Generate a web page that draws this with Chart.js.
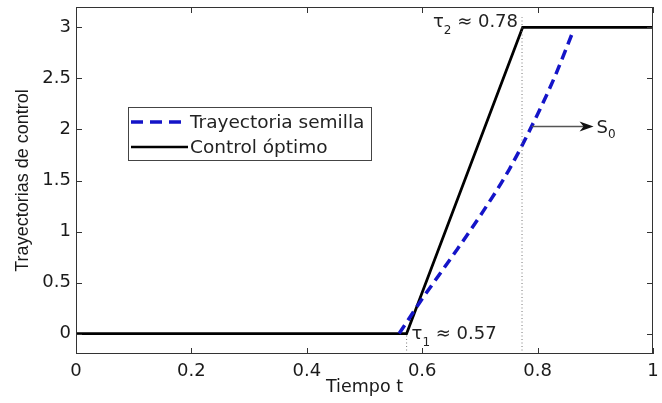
<!DOCTYPE html>
<html>
<head>
<meta charset="utf-8">
<script src="https://cdn.jsdelivr.net/npm/chart.js@4"></script>
<style>
  html, body { margin: 0; padding: 0; background: #fff; }
  #wrap { width: 662px; height: 403px; }
</style>
</head>
<body>
<div id="wrap"><canvas id="chart" width="662" height="403"></canvas></div>
<script>
// ── Datos ─────────────────────────────────────────────────────────────────────
const seedT = [0.56, 0.6, 0.65, 0.7, 0.75, 0.8, 0.83, 0.862];
const seedU = [0, 0.34, 0.74, 1.15, 1.6, 2.15, 2.52, 2.97];
const optT  = [0, 0.573, 0.774, 1];
const optU  = [0, 0, 3, 3];
const xTicks = [0, 0.2, 0.4, 0.6, 0.8, 1];
const yTicks = [0, 0.5, 1, 1.5, 2, 2.5, 3];
const tauT      = [0.573, 0.773];
const tauLabels = ['0.57', '0.78'];
const s0From = [0.79, 2.03];
const s0To   = [0.897, 2.03];

const pts = (xs, ys) => xs.map((v, i) => ({ x: v, y: ys[i] }));

const FONT = '"DejaVu Sans", sans-serif';

// ── Marco, ticks interiores, leyenda y anotaciones ───────────────────────────
const extras = {
  id: 'extras',
  afterDraw(chart) {
    const { ctx, chartArea: a, scales: { x, y } } = chart;
    ctx.save();
    const seg = (x1, y1, x2, y2) => { ctx.beginPath(); ctx.moveTo(x1, y1); ctx.lineTo(x2, y2); ctx.stroke(); };

    // marco
    ctx.strokeStyle = '#333';
    ctx.lineWidth = 1;
    ctx.strokeRect(Math.round(a.left) + 0.5, Math.round(a.top) + 0.5,
                   Math.round(a.right - a.left) - 1, Math.round(a.bottom - a.top) - 1);
    xTicks.forEach(v => {
      const px = Math.round(x.getPixelForValue(v)) + 0.5;
      seg(px, a.bottom, px, a.bottom - 6);
      seg(px, a.top, px, a.top + 6);
    });
    yTicks.forEach(v => {
      const py = Math.round(y.getPixelForValue(v)) + 0.5;
      seg(a.left, py, a.left + 6, py);
      seg(a.right, py, a.right - 6, py);
    });

    // leyenda (semilla primero)
    const lx = a.left + 52, ly = a.top + 100, lw = 243, lh = 53;
    ctx.fillStyle = '#fff';
    ctx.fillRect(lx, ly, lw, lh);
    ctx.strokeStyle = '#444';
    ctx.strokeRect(lx + 0.5, ly + 0.5, lw, lh);
    const items = chart.data.datasets.filter(d => d.label).sort((p, q) => p.order - q.order);
    items.forEach((d, i) => {
      const yy = ly + 15 + i * 25;
      ctx.strokeStyle = d.borderColor;
      ctx.lineWidth = d.borderWidth;
      ctx.setLineDash(d.borderDash ? [12, 7] : []);
      seg(lx + 3, yy, lx + 60, yy);
      ctx.setLineDash([]);
      ctx.fillStyle = '#222';
      ctx.font = '18.5px ' + FONT;
      ctx.textBaseline = 'middle';
      ctx.textAlign = 'left';
      ctx.fillText(d.label, lx + 62, yy + 1);
    });

    // etiquetas tau
    const drawTau = (x0, base, sub, rest, alignRight) => {
      ctx.textBaseline = 'alphabetic';
      ctx.textAlign = 'left';
      ctx.fillStyle = '#222';
      const big = '18px ' + FONT, small = '12px ' + FONT;
      ctx.font = big; const w1 = ctx.measureText('τ').width;
      ctx.font = small; const w2 = ctx.measureText(sub).width;
      ctx.font = big; const w3 = ctx.measureText(rest).width;
      const sx = alignRight ? x0 - (w1 + w2 + w3) : x0;
      ctx.font = big; ctx.fillText('τ', sx, base);
      ctx.font = small; ctx.fillText(sub, sx + w1, base + 7);
      ctx.font = big; ctx.fillText(rest, sx + w1 + w2, base);
    };
    drawTau(x.getPixelForValue(tauT[0]) + 5, y.getPixelForValue(0) + 5, '1', ' ≈ ' + tauLabels[0], false);
    drawTau(x.getPixelForValue(tauT[1]) - 4, y.getPixelForValue(3), '2', ' ≈ ' + tauLabels[1], true);

    // flecha S0
    const ax1 = x.getPixelForValue(s0From[0]), ay = y.getPixelForValue(s0From[1]);
    const ax2 = x.getPixelForValue(s0To[0]);
    ctx.strokeStyle = '#555';
    ctx.lineWidth = 1.5;
    seg(ax1, ay, ax2 - 8, ay);
    ctx.fillStyle = '#111';
    ctx.beginPath();
    ctx.moveTo(ax2, ay);
    ctx.lineTo(ax2 - 14, ay - 5);
    ctx.lineTo(ax2 - 10, ay);
    ctx.lineTo(ax2 - 14, ay + 5);
    ctx.closePath();
    ctx.fill();
    ctx.fillStyle = '#222';
    ctx.textAlign = 'left';
    ctx.textBaseline = 'alphabetic';
    ctx.font = '18px ' + FONT;
    ctx.fillText('S', ax2 + 3, ay + 7);
    const sw = ctx.measureText('S').width;
    ctx.font = '12px ' + FONT;
    ctx.fillText('0', ax2 + 3 + sw, ay + 12);
    ctx.restore();
  }
};

// ── Gráfica ───────────────────────────────────────────────────────────────────
new Chart(document.getElementById('chart'), {
  type: 'line',
  data: {
    datasets: [
      { data: [{ x: tauT[0], y: -0.2 }, { x: tauT[0], y: 0 }], borderColor: '#777', borderWidth: 1, borderDash: [1, 2.5], pointRadius: 0 },
      { data: [{ x: tauT[1], y: -0.2 }, { x: tauT[1], y: 3.1 }], borderColor: '#777', borderWidth: 1, borderDash: [1, 2.5], pointRadius: 0 },
      { label: 'Control óptimo', order: 2, data: pts(optT, optU), borderColor: '#000', borderWidth: 2.7, pointRadius: 0, tension: 0 },
      { label: 'Trayectoria semilla', order: 1, data: pts(seedT, seedU), borderColor: '#1414c8', borderWidth: 3.5, borderDash: [10, 6],
        pointRadius: 0, cubicInterpolationMode: 'monotone' },
    ],
  },
  options: {
    responsive: false,
    animation: false,
    layout: { padding: { top: 7, right: 9 } },
    plugins: { legend: { display: false }, tooltip: { enabled: false } },
    scales: {
      x: {
        type: 'linear', min: 0, max: 1,
        afterBuildTicks: s => { s.ticks = xTicks.map(v => ({ value: v })); },
        afterFit: s => { s.height = 49; s.paddingLeft = 0; s.paddingRight = 0; },
        grid: { display: false, drawTicks: false },
        border: { display: false },
        ticks: { color: '#1a1a1a', font: { family: FONT, size: 18 }, padding: 7, maxRotation: 0,
                 callback: v => String(v) },
        title: { display: true, text: 'Tiempo t', color: '#1a1a1a', font: { family: FONT, size: 17.5 }, padding: { bottom: 5 } },
      },
      y: {
        min: -0.2, max: 3.2,
        afterBuildTicks: s => { s.ticks = yTicks.map(v => ({ value: v })); },
        afterFit: s => { s.width = 76; s.paddingTop = 0; s.paddingBottom = 0; },
        grid: { display: false, drawTicks: false },
        border: { display: false },
        ticks: { color: '#1a1a1a', font: { family: FONT, size: 18 }, padding: 5, callback: v => String(v) },
        title: { display: true, text: 'Trayectorias de control', color: '#1a1a1a',
                 font: { family: '"Liberation Sans", Arial, sans-serif', size: 18 }, padding: { top: 12 } },
      },
    },
  },
  plugins: [extras],
});
</script>
</body>
</html>
